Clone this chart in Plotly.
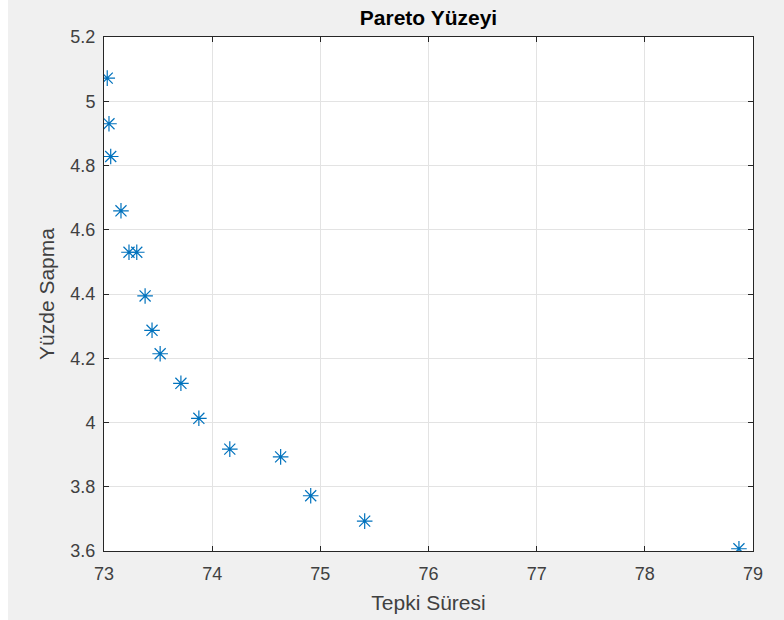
import plotly.graph_objects as go

tepki_suresi = [73.03, 73.046, 73.062, 73.157, 73.231, 73.303, 73.38, 73.444, 73.519,
                73.711, 73.877, 74.163, 74.633, 74.911, 75.41, 78.87]
yuzde_sapma = [5.072, 4.930, 4.828, 4.659, 4.530, 4.530, 4.394, 4.287, 4.214,
               4.122, 4.013, 3.917, 3.893, 3.772, 3.693, 3.607]

x_ticks = [73, 74, 75, 76, 77, 78, 79]
y_ticks = [3.6, 3.8, 4.0, 4.2, 4.4, 4.6, 4.8, 5.0, 5.2]
y_tick_text = ["3.6", "3.8", "4", "4.2", "4.4", "4.6", "4.8", "5", "5.2"]

FONT = "Liberation Sans, Arial, Helvetica, sans-serif"
AX = "#262626"
TXT = "#404040"

fig = go.Figure()
fig.add_trace(go.Scatter(
    x=tepki_suresi, y=yuzde_sapma, mode="markers",
    marker=dict(symbol="asterisk-open", size=13, color="#0072BD",
                line=dict(color="#0072BD", width=1.2)),
    showlegend=False, hoverinfo="x+y"))

axis_common = dict(
    showline=True, mirror="ticks", linecolor=AX, linewidth=1,
    ticks="inside", ticklen=5, tickcolor=AX, tickwidth=1,
    showgrid=True, gridcolor="#e3e3e3", gridwidth=1,
    zeroline=False, tickfont=dict(family=FONT, size=18, color=TXT),
)

fig.update_layout(
    width=784, height=620,
    paper_bgcolor="#f0f0f0", plot_bgcolor="white",
    margin=dict(l=104, r=31, t=37, b=69, autoexpand=False),
    title=dict(text="<b>Pareto Yüzeyi</b>", x=0.5, xanchor="center",
               xref="paper", y=1 - 18 / 620, yanchor="middle",
               font=dict(family=FONT, size=21, color="black")),
    font=dict(family=FONT),
    xaxis=dict(range=[73, 79], tickvals=x_ticks, ticklabelstandoff=6,
               title=dict(text="Tepki Süresi", standoff=12,
                          font=dict(family=FONT, size=21, color=TXT)),
               **axis_common),
    yaxis=dict(range=[3.6, 5.2], tickvals=y_ticks, ticktext=y_tick_text,
               ticklabelstandoff=4,
               title=dict(text="Yüzde Sapma", standoff=10,
                          font=dict(family=FONT, size=21, color=TXT)),
               **axis_common),
    shapes=[dict(type="rect", xref="paper", yref="paper",
                 x0=-105 / 649, x1=-96 / 649, y0=-70 / 514, y1=(620 - 69) / 514 + 0.01,
                 fillcolor="white", line=dict(width=0), layer="below")],
)

fig.write_html("out.html", config={"displayModeBar": False},
               post_script="document.body.style.margin='0';document.body.style.overflow='hidden';")
